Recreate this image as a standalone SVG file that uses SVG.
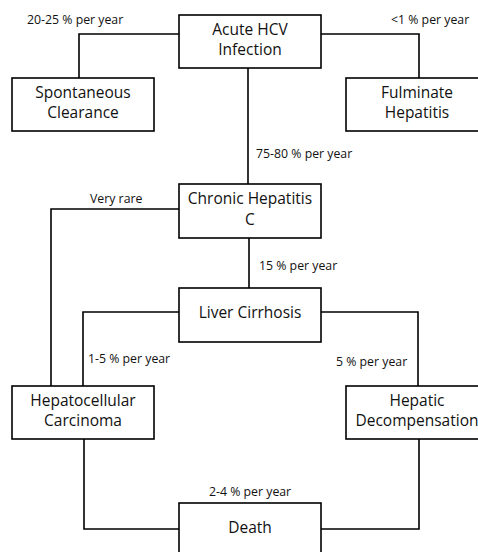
<svg xmlns="http://www.w3.org/2000/svg" width="478" height="552" viewBox="0 0 478 552">
<style>
.box{fill:#fff;stroke:#000;stroke-width:1.6}
.ln{fill:none;stroke:#000;stroke-width:1.6}
.t{font-family:"Open Sans","Liberation Sans",sans-serif;font-size:15.5px;fill:#111;text-anchor:middle}
.l{font-family:"Open Sans","Liberation Sans",sans-serif;font-size:12.3px;fill:#111}
</style>
<rect width="478" height="552" fill="#fff"/>
<g id="connectors">
<path class="ln" d="M179,34 H79 V78"/>
<path class="ln" d="M321,34 H419 V78"/>
<path class="ln" d="M248,68 V184"/>
<path class="ln" d="M179,209 H51 V386"/>
<path class="ln" d="M249,238 V288"/>
<path class="ln" d="M179,312 H83 V386"/>
<path class="ln" d="M321,312 H418 V386"/>
<path class="ln" d="M84,439 V529 H179"/>
<path class="ln" d="M419,439 V529 H321"/>
<text class="l" x="27" y="24">20-25 % per year</text>
<text class="l" x="391" y="24">&lt;1 % per year</text>
<text class="l" x="256" y="158">75-80 % per year</text>
<text class="l" x="90" y="203">Very rare</text>
<text class="l" x="259" y="270">15 % per year</text>
<text class="l" x="88" y="363">1-5 % per year</text>
<text class="l" x="336" y="366">5 % per year</text>
<text class="l" x="209" y="496">2-4 % per year</text>
</g>
<g id="acute"><rect class="box" x="179" y="15" width="142" height="53"/><text class="t" x="250" y="35">Acute HCV</text><text class="t" x="250" y="55">Infection</text></g>
<g id="spontaneous"><rect class="box" x="12" y="78" width="142" height="53"/><text class="t" x="83" y="98">Spontaneous</text><text class="t" x="83" y="118">Clearance</text></g>
<g id="fulminate"><rect class="box" x="346" y="78" width="142" height="53"/><text class="t" x="417" y="98">Fulminate</text><text class="t" x="417" y="118">Hepatitis</text></g>
<g id="chronic"><rect class="box" x="179" y="184" width="142" height="54"/><text class="t" x="250" y="204">Chronic Hepatitis</text><text class="t" x="250" y="225">C</text></g>
<g id="cirrhosis"><rect class="box" x="179" y="288" width="142" height="54"/><text class="t" x="250" y="318">Liver Cirrhosis</text></g>
<g id="hcc"><rect class="box" x="12" y="386" width="142" height="53"/><text class="t" x="83" y="406">Hepatocellular</text><text class="t" x="83" y="426">Carcinoma</text></g>
<g id="decomp"><rect class="box" x="346" y="386" width="142" height="53"/><text class="t" x="417" y="406">Hepatic</text><text class="t" x="417" y="426">Decompensation</text></g>
<g id="death"><rect class="box" x="179" y="503" width="142" height="60"/><text class="t" x="250" y="533">Death</text></g>
</svg>
